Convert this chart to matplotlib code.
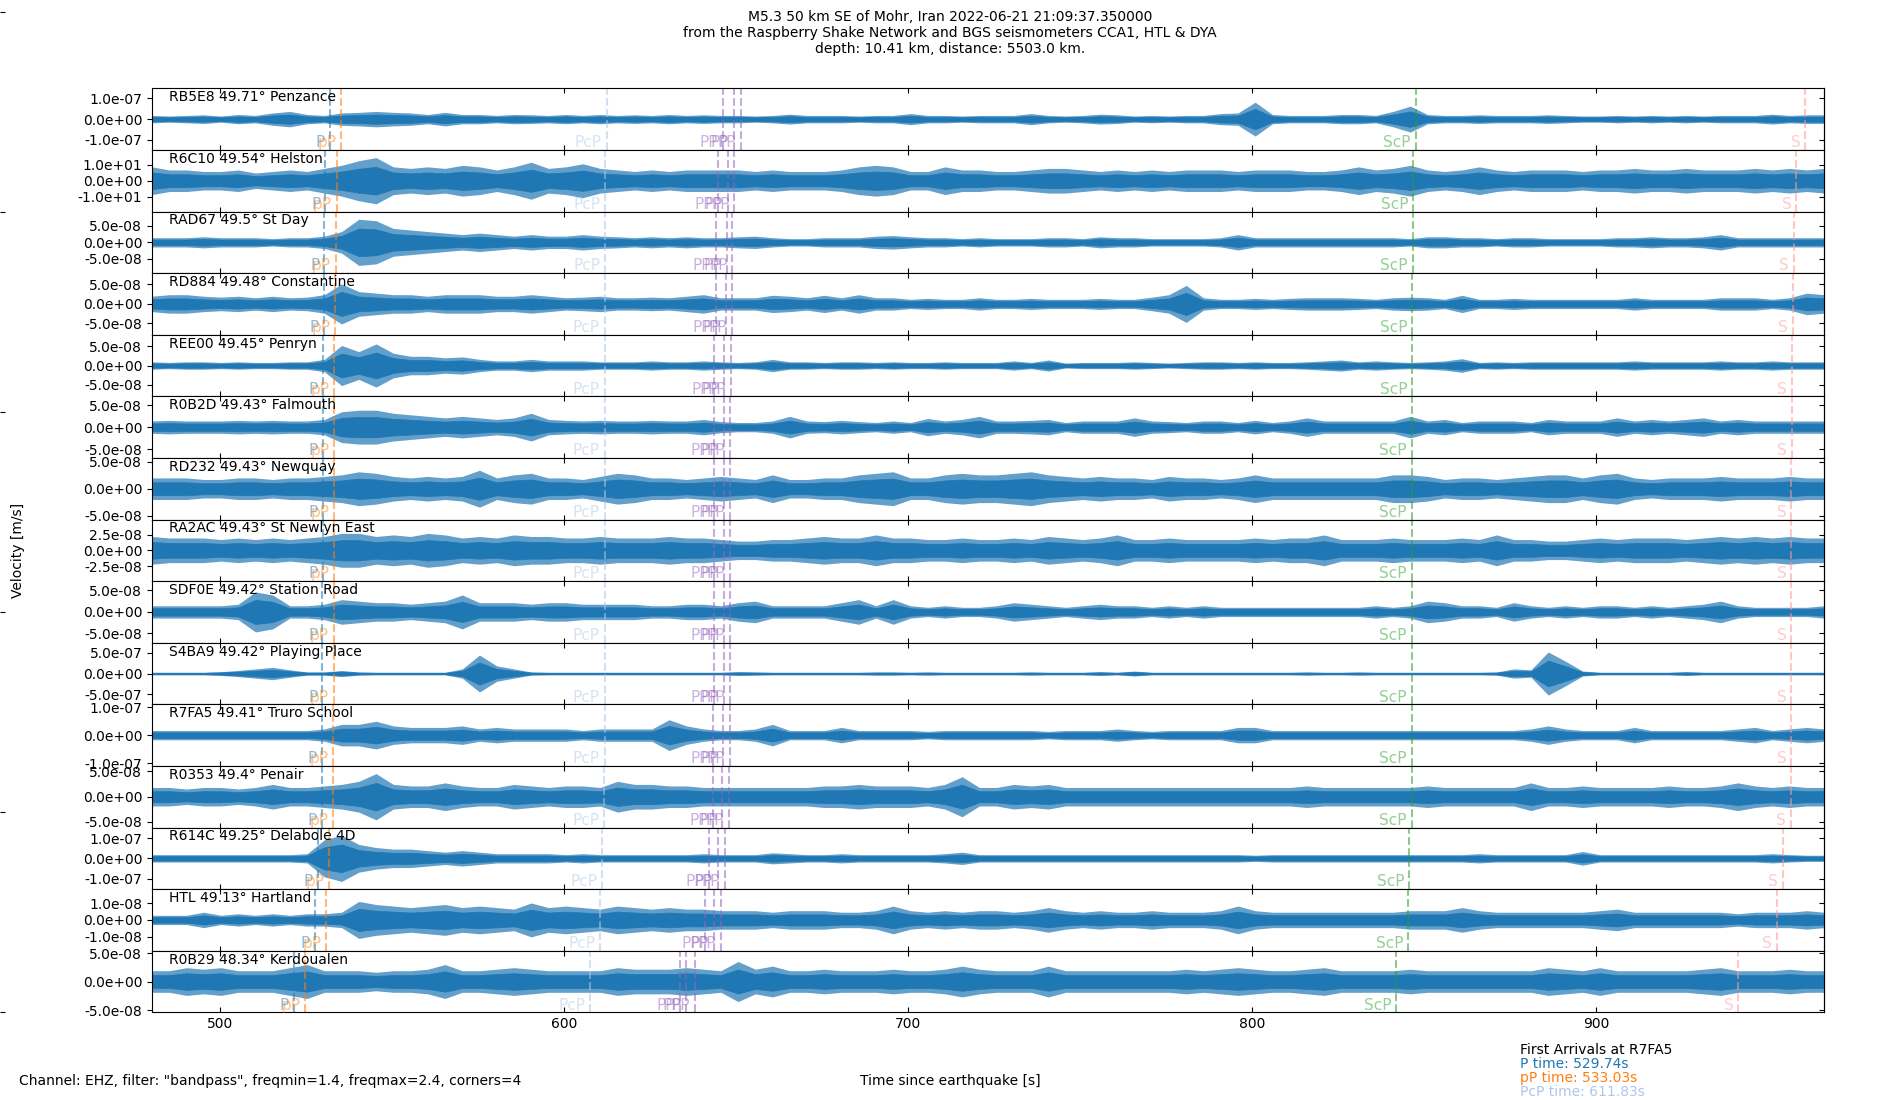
import numpy as np
import matplotlib.pyplot as plt
from matplotlib import transforms
from matplotlib.ticker import FormatStrFormatter

# --- time window shown (seconds since the earthquake) ---
T_START, T_END = 480.3, 966.3

# --- stations, top to bottom ---
stations = ["RB5E8", "R6C10", "RAD67", "RD884", "REE00", "R0B2D", "RD232", "RA2AC",
            "SDF0E", "S4BA9", "R7FA5", "R0353", "R614C", "HTL", "R0B29"]
distances = ["49.71", "49.54", "49.5", "49.48", "49.45", "49.43", "49.43", "49.43",
             "49.42", "49.42", "49.41", "49.4", "49.25", "49.13", "48.34"]
places = ["Penzance", "Helston", "St Day", "Constantine", "Penryn", "Falmouth", "Newquay",
          "St Newlyn East", "Station Road", "Playing Place", "Truro School", "Penair",
          "Delabole 4D", "Hartland", "Kerdoualen"]

# y tick value and half range of each panel [m/s]
tick_step = [1e-7, 10, 5e-8, 5e-8, 5e-8, 5e-8, 5e-8, 2.5e-8, 5e-8, 5e-7, 1e-7, 5e-8, 1e-7, 1e-8, 5e-8]
y_half = [1.48e-7, 19.0, 9.3e-8, 7.9e-8, 8.0e-8, 7.0e-8, 5.75e-8, 4.9e-8, 7.15e-8, 7.4e-7,
          1.1e-7, 6.1e-8, 1.52e-7, 1.84e-8, 5.4e-8]

# trace envelopes, every ~5 s, as a fraction of the half range
env_rb5e8 = [0.12, 0.10, 0.12, 0.14, 0.10, 0.15, 0.12, 0.20, 0.25, 0.15, 0.12, 0.20, 0.22, 0.25, 0.22, 0.20, 0.15, 0.22, 0.15, 0.15, 0.12, 0.15, 0.14, 0.12, 0.15, 0.12, 0.15, 0.12, 0.14, 0.12, 0.15, 0.12, 0.14,
             0.12, 0.12, 0.10, 0.12, 0.16, 0.12, 0.12, 0.12, 0.10, 0.12, 0.12, 0.18, 0.12, 0.12, 0.10, 0.12, 0.12, 0.12, 0.18, 0.12, 0.10, 0.12, 0.16, 0.14, 0.10, 0.12, 0.10, 0.12, 0.12, 0.18, 0.20, 0.55, 0.15,
             0.12, 0.12, 0.12, 0.15, 0.15, 0.12, 0.25, 0.42, 0.15, 0.12, 0.12, 0.14, 0.12, 0.12, 0.12, 0.14, 0.12, 0.10, 0.10, 0.12, 0.10, 0.12, 0.10, 0.12, 0.10, 0.12, 0.12, 0.12, 0.16, 0.12, 0.14, 0.14]
env_r6c10 = [0.45, 0.35, 0.35, 0.30, 0.30, 0.35, 0.25, 0.30, 0.35, 0.30, 0.40, 0.50, 0.65, 0.75, 0.45, 0.40, 0.45, 0.40, 0.50, 0.45, 0.35, 0.45, 0.60, 0.40, 0.45, 0.55, 0.40, 0.35, 0.30, 0.35, 0.30, 0.35, 0.35,
             0.35, 0.35, 0.30, 0.35, 0.30, 0.30, 0.30, 0.35, 0.45, 0.50, 0.45, 0.30, 0.30, 0.45, 0.35, 0.35, 0.30, 0.30, 0.35, 0.40, 0.40, 0.35, 0.30, 0.35, 0.30, 0.35, 0.30, 0.35, 0.35, 0.35, 0.30, 0.35, 0.35,
             0.35, 0.30, 0.30, 0.35, 0.45, 0.35, 0.40, 0.50, 0.35, 0.30, 0.35, 0.45, 0.35, 0.30, 0.35, 0.35, 0.35, 0.30, 0.35, 0.35, 0.40, 0.35, 0.35, 0.40, 0.35, 0.35, 0.35, 0.40, 0.35, 0.40, 0.35, 0.40]
env_rad67 = [0.15, 0.15, 0.15, 0.18, 0.15, 0.15, 0.15, 0.12, 0.15, 0.15, 0.20, 0.35, 0.75, 0.70, 0.45, 0.40, 0.35, 0.30, 0.25, 0.30, 0.25, 0.20, 0.25, 0.20, 0.20, 0.25, 0.20, 0.18, 0.15, 0.18, 0.15, 0.18, 0.15,
             0.15, 0.18, 0.20, 0.15, 0.12, 0.12, 0.15, 0.15, 0.15, 0.20, 0.22, 0.18, 0.15, 0.15, 0.12, 0.15, 0.12, 0.12, 0.12, 0.15, 0.15, 0.12, 0.18, 0.15, 0.15, 0.12, 0.12, 0.12, 0.12, 0.15, 0.25, 0.15, 0.15,
             0.15, 0.15, 0.15, 0.15, 0.15, 0.15, 0.15, 0.12, 0.18, 0.18, 0.15, 0.15, 0.12, 0.15, 0.15, 0.12, 0.12, 0.12, 0.12, 0.15, 0.15, 0.18, 0.15, 0.15, 0.18, 0.25, 0.15, 0.15, 0.15, 0.15, 0.15, 0.15]
env_rd884 = [0.25, 0.30, 0.30, 0.25, 0.22, 0.25, 0.20, 0.25, 0.20, 0.22, 0.30, 0.65, 0.40, 0.35, 0.30, 0.30, 0.25, 0.30, 0.30, 0.30, 0.25, 0.25, 0.30, 0.25, 0.20, 0.22, 0.25, 0.20, 0.20, 0.22, 0.20, 0.25, 0.30,
             0.20, 0.20, 0.20, 0.28, 0.25, 0.20, 0.28, 0.20, 0.30, 0.20, 0.20, 0.15, 0.18, 0.15, 0.15, 0.20, 0.15, 0.15, 0.18, 0.15, 0.15, 0.15, 0.18, 0.15, 0.15, 0.22, 0.30, 0.60, 0.20, 0.15, 0.15, 0.18, 0.15,
             0.18, 0.20, 0.20, 0.20, 0.18, 0.15, 0.20, 0.22, 0.20, 0.15, 0.28, 0.15, 0.15, 0.18, 0.15, 0.15, 0.15, 0.15, 0.15, 0.15, 0.20, 0.15, 0.15, 0.15, 0.15, 0.20, 0.20, 0.20, 0.15, 0.20, 0.35, 0.30]
env_ree00 = [0.12, 0.10, 0.12, 0.12, 0.10, 0.12, 0.10, 0.10, 0.12, 0.12, 0.20, 0.65, 0.45, 0.70, 0.40, 0.30, 0.30, 0.25, 0.28, 0.20, 0.15, 0.15, 0.20, 0.15, 0.15, 0.15, 0.12, 0.12, 0.12, 0.15, 0.12, 0.12, 0.15,
             0.12, 0.10, 0.12, 0.20, 0.12, 0.12, 0.10, 0.12, 0.12, 0.10, 0.12, 0.10, 0.10, 0.12, 0.10, 0.10, 0.10, 0.15, 0.10, 0.18, 0.08, 0.10, 0.10, 0.10, 0.12, 0.10, 0.08, 0.10, 0.12, 0.12, 0.10, 0.12, 0.10,
             0.10, 0.12, 0.15, 0.18, 0.12, 0.15, 0.12, 0.10, 0.12, 0.15, 0.22, 0.10, 0.12, 0.10, 0.12, 0.12, 0.12, 0.12, 0.12, 0.12, 0.15, 0.12, 0.12, 0.12, 0.12, 0.15, 0.12, 0.12, 0.15, 0.12, 0.12, 0.12]
env_r0b2d = [0.20, 0.22, 0.20, 0.20, 0.20, 0.22, 0.20, 0.22, 0.20, 0.20, 0.25, 0.50, 0.55, 0.55, 0.45, 0.40, 0.35, 0.30, 0.35, 0.30, 0.25, 0.30, 0.45, 0.25, 0.22, 0.20, 0.22, 0.20, 0.20, 0.22, 0.20, 0.20, 0.25,
             0.18, 0.15, 0.15, 0.20, 0.35, 0.20, 0.18, 0.22, 0.18, 0.15, 0.20, 0.15, 0.28, 0.20, 0.25, 0.35, 0.20, 0.20, 0.22, 0.25, 0.15, 0.20, 0.20, 0.20, 0.30, 0.20, 0.18, 0.15, 0.20, 0.20, 0.15, 0.22, 0.15,
             0.20, 0.30, 0.20, 0.20, 0.20, 0.20, 0.20, 0.35, 0.20, 0.25, 0.15, 0.20, 0.20, 0.20, 0.15, 0.25, 0.20, 0.20, 0.20, 0.30, 0.20, 0.25, 0.20, 0.25, 0.30, 0.20, 0.25, 0.20, 0.20, 0.20, 0.20, 0.20]
env_rd232 = [0.35, 0.35, 0.35, 0.30, 0.30, 0.35, 0.35, 0.30, 0.35, 0.35, 0.40, 0.45, 0.55, 0.50, 0.40, 0.35, 0.40, 0.35, 0.40, 0.60, 0.35, 0.45, 0.50, 0.35, 0.35, 0.30, 0.40, 0.50, 0.45, 0.35, 0.35, 0.30, 0.35,
             0.40, 0.35, 0.30, 0.45, 0.30, 0.30, 0.35, 0.35, 0.45, 0.50, 0.55, 0.35, 0.35, 0.45, 0.50, 0.45, 0.45, 0.50, 0.55, 0.45, 0.40, 0.35, 0.40, 0.35, 0.35, 0.30, 0.40, 0.35, 0.35, 0.30, 0.35, 0.45, 0.35,
             0.35, 0.35, 0.35, 0.35, 0.35, 0.35, 0.45, 0.45, 0.40, 0.30, 0.35, 0.35, 0.30, 0.35, 0.40, 0.45, 0.45, 0.35, 0.45, 0.50, 0.35, 0.30, 0.35, 0.35, 0.35, 0.40, 0.35, 0.35, 0.35, 0.40, 0.35, 0.35]
env_ra2ac = [0.45, 0.40, 0.40, 0.40, 0.35, 0.40, 0.35, 0.40, 0.35, 0.40, 0.45, 0.55, 0.55, 0.45, 0.50, 0.45, 0.55, 0.50, 0.40, 0.45, 0.40, 0.50, 0.45, 0.45, 0.40, 0.40, 0.45, 0.40, 0.40, 0.40, 0.45, 0.40, 0.40,
             0.35, 0.30, 0.30, 0.35, 0.35, 0.40, 0.45, 0.40, 0.40, 0.50, 0.40, 0.40, 0.35, 0.35, 0.40, 0.35, 0.35, 0.40, 0.35, 0.45, 0.40, 0.35, 0.40, 0.50, 0.35, 0.35, 0.40, 0.35, 0.35, 0.35, 0.35, 0.40, 0.35,
             0.40, 0.40, 0.50, 0.35, 0.35, 0.35, 0.40, 0.35, 0.35, 0.35, 0.40, 0.35, 0.50, 0.35, 0.35, 0.30, 0.30, 0.35, 0.40, 0.35, 0.40, 0.40, 0.40, 0.35, 0.40, 0.45, 0.40, 0.45, 0.40, 0.45, 0.40, 0.40]
env_sdf0e = [0.20, 0.20, 0.20, 0.20, 0.20, 0.25, 0.65, 0.55, 0.20, 0.20, 0.25, 0.40, 0.35, 0.30, 0.30, 0.25, 0.30, 0.35, 0.55, 0.30, 0.30, 0.30, 0.25, 0.30, 0.30, 0.25, 0.25, 0.25, 0.25, 0.20, 0.20, 0.25, 0.25,
             0.20, 0.30, 0.35, 0.20, 0.20, 0.20, 0.20, 0.30, 0.40, 0.20, 0.40, 0.20, 0.15, 0.20, 0.15, 0.15, 0.20, 0.30, 0.25, 0.20, 0.15, 0.20, 0.25, 0.20, 0.20, 0.15, 0.20, 0.15, 0.20, 0.15, 0.15, 0.15, 0.15,
             0.15, 0.15, 0.15, 0.15, 0.15, 0.20, 0.15, 0.20, 0.35, 0.30, 0.20, 0.20, 0.15, 0.30, 0.20, 0.15, 0.20, 0.15, 0.20, 0.20, 0.15, 0.20, 0.15, 0.20, 0.25, 0.35, 0.20, 0.15, 0.15, 0.15, 0.15, 0.20]
env_s4ba9 = [0.04, 0.04, 0.04, 0.04, 0.06, 0.10, 0.15, 0.20, 0.12, 0.05, 0.05, 0.10, 0.05, 0.04, 0.04, 0.04, 0.04, 0.04, 0.15, 0.60, 0.25, 0.15, 0.05, 0.04, 0.04, 0.04, 0.04, 0.04, 0.04, 0.04, 0.04, 0.04, 0.04,
             0.04, 0.06, 0.05, 0.04, 0.04, 0.04, 0.04, 0.04, 0.04, 0.05, 0.05, 0.04, 0.05, 0.04, 0.04, 0.04, 0.04, 0.04, 0.05, 0.04, 0.04, 0.04, 0.06, 0.04, 0.08, 0.04, 0.04, 0.04, 0.04, 0.04, 0.04, 0.04, 0.04,
             0.04, 0.05, 0.04, 0.04, 0.05, 0.04, 0.04, 0.04, 0.04, 0.04, 0.04, 0.04, 0.05, 0.15, 0.12, 0.70, 0.40, 0.08, 0.04, 0.04, 0.04, 0.04, 0.04, 0.06, 0.04, 0.04, 0.04, 0.04, 0.04, 0.04, 0.04, 0.04]
env_r7fa5 = [0.15, 0.15, 0.15, 0.15, 0.15, 0.15, 0.15, 0.15, 0.15, 0.15, 0.20, 0.35, 0.35, 0.45, 0.30, 0.25, 0.25, 0.25, 0.30, 0.20, 0.25, 0.20, 0.20, 0.20, 0.20, 0.15, 0.20, 0.20, 0.20, 0.20, 0.50, 0.30, 0.20,
             0.15, 0.15, 0.20, 0.35, 0.15, 0.15, 0.15, 0.25, 0.15, 0.15, 0.15, 0.15, 0.12, 0.15, 0.15, 0.15, 0.15, 0.15, 0.15, 0.12, 0.15, 0.15, 0.15, 0.20, 0.15, 0.12, 0.15, 0.15, 0.15, 0.15, 0.25, 0.25, 0.15,
             0.15, 0.15, 0.15, 0.15, 0.15, 0.15, 0.15, 0.15, 0.15, 0.15, 0.15, 0.15, 0.15, 0.15, 0.20, 0.30, 0.20, 0.15, 0.15, 0.15, 0.25, 0.15, 0.15, 0.15, 0.15, 0.15, 0.20, 0.25, 0.15, 0.20, 0.25, 0.20]
env_r0353 = [0.30, 0.30, 0.25, 0.30, 0.30, 0.25, 0.30, 0.40, 0.30, 0.30, 0.35, 0.40, 0.50, 0.75, 0.40, 0.35, 0.35, 0.45, 0.35, 0.30, 0.30, 0.40, 0.35, 0.30, 0.35, 0.35, 0.30, 0.50, 0.40, 0.40, 0.35, 0.35, 0.30,
             0.30, 0.30, 0.30, 0.30, 0.30, 0.30, 0.35, 0.35, 0.40, 0.35, 0.35, 0.35, 0.30, 0.40, 0.65, 0.30, 0.30, 0.40, 0.35, 0.40, 0.30, 0.30, 0.30, 0.30, 0.30, 0.30, 0.30, 0.30, 0.30, 0.30, 0.30, 0.30, 0.30,
             0.30, 0.35, 0.30, 0.30, 0.30, 0.30, 0.30, 0.30, 0.35, 0.30, 0.30, 0.30, 0.30, 0.30, 0.45, 0.30, 0.30, 0.35, 0.30, 0.30, 0.30, 0.30, 0.35, 0.30, 0.30, 0.35, 0.45, 0.35, 0.30, 0.35, 0.30, 0.30]
env_r614c = [0.12, 0.12, 0.12, 0.12, 0.12, 0.12, 0.12, 0.12, 0.12, 0.15, 0.60, 0.75, 0.45, 0.35, 0.30, 0.30, 0.25, 0.20, 0.25, 0.20, 0.15, 0.15, 0.15, 0.15, 0.12, 0.15, 0.12, 0.12, 0.12, 0.12, 0.12, 0.12, 0.15,
             0.12, 0.12, 0.12, 0.18, 0.15, 0.12, 0.12, 0.15, 0.12, 0.12, 0.12, 0.12, 0.12, 0.15, 0.20, 0.12, 0.12, 0.12, 0.12, 0.12, 0.12, 0.12, 0.12, 0.12, 0.12, 0.12, 0.12, 0.12, 0.12, 0.12, 0.12, 0.10, 0.12,
             0.12, 0.12, 0.12, 0.12, 0.12, 0.12, 0.12, 0.12, 0.12, 0.12, 0.12, 0.15, 0.12, 0.12, 0.12, 0.12, 0.12, 0.22, 0.12, 0.12, 0.12, 0.12, 0.12, 0.12, 0.12, 0.12, 0.12, 0.12, 0.15, 0.12, 0.10, 0.10]
env_htl = [0.15, 0.15, 0.15, 0.25, 0.15, 0.20, 0.15, 0.20, 0.15, 0.20, 0.20, 0.25, 0.60, 0.50, 0.45, 0.40, 0.45, 0.50, 0.40, 0.45, 0.40, 0.35, 0.55, 0.40, 0.45, 0.40, 0.35, 0.45, 0.40, 0.35, 0.40, 0.35, 0.35,
           0.30, 0.30, 0.30, 0.25, 0.30, 0.30, 0.30, 0.25, 0.25, 0.30, 0.45, 0.30, 0.25, 0.30, 0.25, 0.30, 0.30, 0.25, 0.30, 0.40, 0.30, 0.25, 0.30, 0.25, 0.25, 0.30, 0.25, 0.25, 0.25, 0.30, 0.45, 0.30, 0.25,
           0.25, 0.25, 0.25, 0.25, 0.25, 0.25, 0.25, 0.30, 0.30, 0.30, 0.40, 0.30, 0.25, 0.25, 0.25, 0.25, 0.25, 0.25, 0.30, 0.35, 0.25, 0.25, 0.25, 0.25, 0.25, 0.25, 0.20, 0.25, 0.25, 0.25, 0.30, 0.25]
env_r0b29 = [0.35, 0.35, 0.45, 0.40, 0.45, 0.35, 0.35, 0.35, 0.45, 0.55, 0.35, 0.35, 0.35, 0.30, 0.35, 0.35, 0.40, 0.55, 0.35, 0.35, 0.40, 0.45, 0.40, 0.35, 0.35, 0.35, 0.35, 0.45, 0.40, 0.40, 0.40, 0.45, 0.40,
             0.35, 0.65, 0.40, 0.50, 0.35, 0.35, 0.40, 0.35, 0.35, 0.35, 0.40, 0.35, 0.35, 0.40, 0.50, 0.40, 0.35, 0.35, 0.35, 0.50, 0.35, 0.35, 0.35, 0.35, 0.35, 0.35, 0.35, 0.40, 0.35, 0.40, 0.45, 0.40, 0.35,
             0.35, 0.40, 0.45, 0.35, 0.35, 0.35, 0.35, 0.40, 0.35, 0.35, 0.35, 0.35, 0.35, 0.35, 0.35, 0.45, 0.40, 0.35, 0.45, 0.35, 0.35, 0.35, 0.35, 0.35, 0.40, 0.45, 0.35, 0.35, 0.35, 0.40, 0.35, 0.35]

envelopes = [env_rb5e8, env_r6c10, env_rad67, env_rd884, env_ree00, env_r0b2d, env_rd232, env_ra2ac,
             env_sdf0e, env_s4ba9, env_r7fa5, env_r0353, env_r614c, env_htl, env_r0b29]

# --- phase arrival times per station [s] ---
p_times = [532.0, 530.7, 530.4, 530.3, 530.0, 529.9, 529.9, 529.9, 529.8, 529.8, 529.74, 529.7, 528.5, 527.6, 521.5]
pp_depth_times = [535.3, 534.0, 533.7, 533.6, 533.3, 533.2, 533.2, 533.2, 533.1, 533.1, 533.03, 533.0, 531.8, 530.9, 524.8]
pcp_times = [612.5, 612.1, 611.95, 611.9, 611.9, 611.85, 611.85, 611.85, 611.83, 611.83, 611.83, 611.8, 611.2, 610.5, 607.6]
pp1_times = [646.3, 644.7, 644.3, 644.1, 643.8, 643.7, 643.7, 643.7, 643.6, 643.6, 643.5, 643.3, 642.3, 641.0, 633.7]
pp2_times = [649.5, 647.7, 647.3, 647.0, 646.7, 646.6, 646.6, 646.6, 646.5, 646.5, 646.4, 646.1, 644.8, 643.6, 635.6]
pp3_times = [651.4, 649.6, 649.0, 648.8, 648.6, 648.4, 648.4, 648.4, 648.3, 648.3, 648.2, 648.0, 646.8, 645.7, 638.2]
scp_times = [847.6, 846.9, 846.7, 846.6, 846.6, 846.5, 846.5, 846.5, 846.5, 846.5, 846.45, 846.4, 845.8, 845.4, 841.9]
s_times = [960.9, 958.3, 957.6, 957.3, 957.0, 956.9, 956.8, 956.8, 956.8, 956.8, 956.75, 956.7, 954.3, 952.6, 941.4]

phase_names = ["P", "pP", "PcP", "PP", "PP", "PP", "ScP", "S"]
phase_colors = ["#1f77b4", "#ff7f0e", "#aec7e8", "#9467bd", "#9467bd", "#9467bd", "#2ca02c", "#ff9896"]
arrivals = [p_times, pp_depth_times, pcp_times, pp1_times, pp2_times, pp3_times, scp_times, s_times]

REF = 10  # R7FA5, the station used for the first-arrival summary

title = ("M5.3 50 km SE of Mohr, Iran 2022-06-21 21:09:37.350000\n"
         "from the Raspberry Shake Network and BGS seismometers CCA1, HTL & DYA\n"
         "depth: 10.41 km, distance: 5503.0 km.")


def main():
    fig, axes = plt.subplots(len(stations), 1, sharex=True, figsize=(19, 11), dpi=100)
    fig.subplots_adjust(left=0.08, right=0.96, top=0.9197, bottom=0.0797, hspace=0)

    for i, ax in enumerate(axes):
        env = np.array(envelopes[i]) * y_half[i]
        t = np.linspace(T_START, T_END, len(env))
        # frayed outer edge of the wiggles, then the dense core
        ax.fill_between(t, -env, env, color="#1f77b4", alpha=0.7, lw=0)
        ax.fill_between(t, -0.6 * env, 0.6 * env, color="#1f77b4", lw=0.5)

        ax.set_xlim(T_START, T_END)
        ax.set_ylim(-y_half[i], y_half[i])
        ticks = [-tick_step[i], 0, tick_step[i]]
        ax.set_yticks(ticks)
        ax.yaxis.set_major_formatter(FormatStrFormatter("%.1e"))
        ax.set_xticks([500, 600, 700, 800, 900])
        ax.tick_params(axis="x", direction="in", top=True, bottom=True)

        # right-hand ticks point inwards
        sec = ax.secondary_yaxis("right")
        sec.set_yticks(ticks)
        sec.set_yticklabels([])
        sec.tick_params(direction="in")

        ax.text(0.01, 0.97, f"{stations[i]} {distances[i]}\u00b0 {places[i]}",
                transform=ax.transAxes, va="top", ha="left", fontsize=10)

        # phase arrivals: dashed line plus a label at the bottom left of it
        tr = transforms.blended_transform_factory(ax.transData, ax.transAxes)
        for name, col, times in zip(phase_names, phase_colors, arrivals):
            ax.axvline(times[i], color=col, ls="--", lw=1.5, alpha=0.55)
            ax.annotate(name, xy=(times[i], 0), xycoords=tr, xytext=(-3.5, 2),
                        textcoords="offset points", ha="right", va="baseline",
                        color=col, alpha=0.5, fontsize=11)

    # invisible full-height axes (only its ticks show at the left edge)
    edge = fig.add_axes([0.0, 0.08, 0.4, 0.909], frameon=False, zorder=-1)
    edge.set_xticks([])
    edge.tick_params(axis="y", direction="in", length=3.5, labelleft=False)

    fig.suptitle(title, fontsize=10, y=0.991)
    fig.text(0.0095, 0.5, "Velocity [m/s]", rotation=90, va="center", ha="center", fontsize=10)
    fig.text(0.0101, 0.0173, 'Channel: EHZ, filter: "bandpass", freqmin=1.4, freqmax=2.4, corners=4',
             va="center", ha="left", fontsize=10)
    fig.text(0.5, 0.0173, "Time since earthquake [s]", va="center", ha="center", fontsize=10)

    # first arrival summary
    summary = [(f"First Arrivals at {stations[REF]}", "black"),
               (f"P time: {p_times[REF]:.2f}s", phase_colors[0]),
               (f"pP time: {pp_depth_times[REF]:.2f}s", phase_colors[1]),
               (f"PcP time: {pcp_times[REF]:.2f}s", phase_colors[2])]
    for j, (txt, col) in enumerate(summary):
        fig.text(0.8, 0.0455 - j * 0.0128, txt, color=col, va="center", ha="left", fontsize=10)

    fig.savefig("out.png", dpi=100)


if __name__ == "__main__":
    main()
